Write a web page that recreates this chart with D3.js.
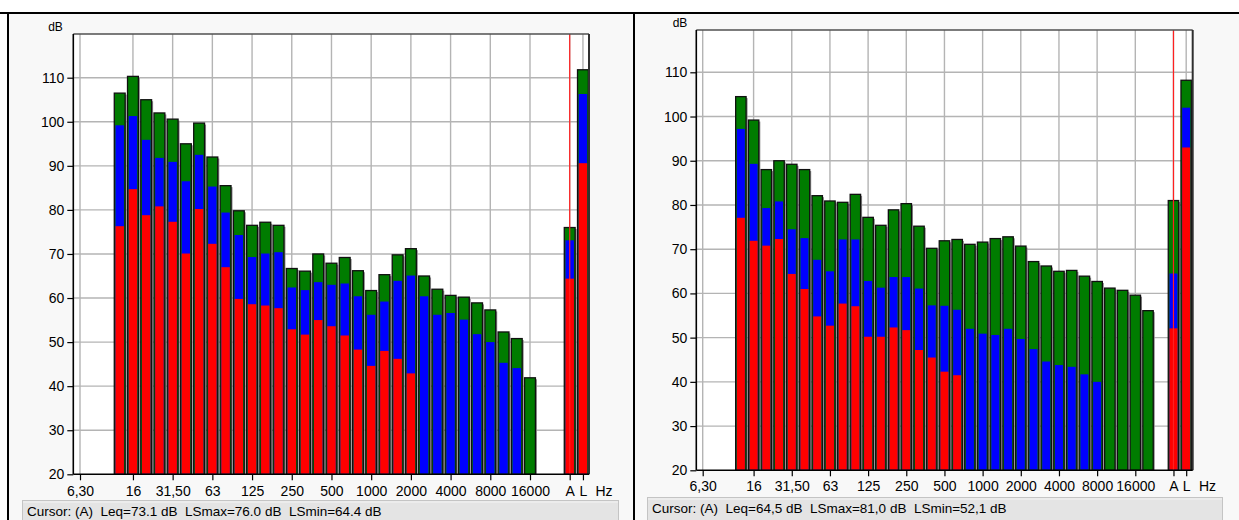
<!DOCTYPE html>
<html>
<head>
<meta charset="utf-8">
<script src="https://cdn.jsdelivr.net/npm/d3@7"></script>
<style>
  html, body { margin: 0; padding: 0; background: #ffffff; }
  svg { display: block; }
  text { font-family: "Liberation Sans", Arial, sans-serif; fill: #000; }
</style>
</head>
<body>
<svg id="chart" width="1239" height="520"></svg>
<script>
// ---------- DATA ----------
// Full 1/3-octave band list (position index on the x axis)
const bandNames = ["6,3","8","10","12,5","16","20","25","31,5","40","50","63","80","100","125","160","200","250","315","400","500","630","800","1000","1250","1600","2000","2500","3150","4000","5000","6300","8000","10000","12500","16000","20000","","A","L"];
const xTickBands  = ["6,3","16","31,5","63","125","250","500","1000","2000","4000","8000","16000","A","L"];
const xTickLabels = ["6,30","16","31,50","63","125","250","500","1000","2000","4000","8000","16000","A","L"];
const yTicks = [20,30,40,50,60,70,80,90,100,110];

// Left panel
const leftBands = ["12,5","16","20","25","31,5","40","50","63","80","100","125","160","200","250","315","400","500","630","800","1000","1250","1600","2000","2500","3150","4000","5000","6300","8000","10000","12500","16000","A","L"];
const leftLSmax = [106.5,110.3,105.0,102.0,100.6,95.0,99.7,92.0,85.5,79.8,76.5,77.2,76.5,66.7,66.1,70.0,67.9,69.2,66.2,61.7,65.3,69.8,71.2,65.0,62.0,60.6,60.2,58.9,57.3,52.3,50.8,41.9,76.0,111.8];
const leftLeq   = [99.2,101.3,95.9,91.8,90.9,86.5,92.5,85.3,79.4,74.3,69.3,70.1,70.4,62.4,61.8,63.6,63.0,63.3,60.4,56.2,59.2,63.9,65.1,60.4,56.2,56.6,55.1,51.8,50.0,45.3,44.1,null,73.1,106.3];
const leftLSmin = [76.3,84.7,78.8,80.8,77.3,70.1,80.2,72.3,67.0,59.8,58.6,58.3,57.7,52.9,51.7,55.0,53.6,51.5,48.3,44.6,48.0,46.2,42.9,null,null,null,null,null,null,null,null,null,64.4,90.6];
const leftStatus = "Cursor: (A)  Leq=73.1 dB  LSmax=76.0 dB  LSmin=64.4 dB";

// Right panel
const rightBands = ["12,5","16","20","25","31,5","40","50","63","80","100","125","160","200","250","315","400","500","630","800","1000","1250","1600","2000","2500","3150","4000","5000","6300","8000","10000","12500","16000","20000","A","L"];
const rightLSmax = [104.5,99.2,88.0,90.0,89.2,88.0,82.1,80.9,80.6,82.4,77.2,75.4,78.9,80.3,75.2,70.2,71.9,72.2,71.1,71.6,72.4,72.8,70.7,67.2,66.2,65.0,65.2,63.9,62.7,61.2,60.7,59.6,56.1,81.0,108.2];
const rightLeq   = [97.2,89.3,79.3,80.8,74.5,72.5,67.6,65.0,72.2,72.2,62.8,61.3,63.7,63.7,61.1,57.3,57.2,56.3,52.0,50.9,50.6,52.0,49.7,47.4,44.6,43.8,43.4,41.7,40.0,null,null,null,null,64.5,102.0];
const rightLSmin = [77.1,71.9,70.8,72.3,64.4,61.0,54.8,52.7,57.7,57.1,50.2,50.2,52.3,51.7,47.2,45.5,42.3,41.5,null,null,null,null,null,null,null,null,null,null,null,null,null,null,null,52.1,93.0];
const rightStatus = "Cursor: (A)  Leq=64,5 dB  LSmax=81,0 dB  LSmin=52,1 dB";

const cursorBand = "A";

// ---------- LAYOUT ----------
const svg = d3.select("#chart");

// outer table borders / panel backgrounds
svg.append("rect").attr("x", 9).attr("y", 14).attr("width", 624).attr("height", 506).attr("fill", "#f8f8f8");
svg.append("rect").attr("x", 635).attr("y", 14).attr("width", 604).attr("height", 506).attr("fill", "#f8f8f8");
svg.append("line").attr("x1", 0).attr("x2", 1239).attr("y1", 13).attr("y2", 13).attr("stroke", "#000").attr("stroke-width", 2);
svg.append("line").attr("x1", 8).attr("x2", 8).attr("y1", 12).attr("y2", 520).attr("stroke", "#000").attr("stroke-width", 2);
svg.append("line").attr("x1", 634).attr("x2", 634).attr("y1", 12).attr("y2", 520).attr("stroke", "#000").attr("stroke-width", 2);

const panels = [
  { bands: leftBands, max: leftLSmax, leq: leftLeq, min: leftLSmin, status: leftStatus,
    left: 73.3, right: 589, top: 34, bottom: 474.3, y110: 77.7, x0: 80, x34: 530,
    dbX: 55.5, dbY: 31, hzX: 604, labY: 496, statusBox: [22, 500, 597, 20], statusY: 516 },
  { bands: rightBands, max: rightLSmax, leq: rightLeq, min: rightLSmin, status: rightStatus,
    left: 696.3, right: 1192.7, top: 30, bottom: 470.3, y110: 72.3, x0: 702.7, x34: 1135.3,
    dbX: 680, dbY: 27, hzX: 1207.5, labY: 491, statusBox: [647, 497, 576, 23], statusY: 513 }
];

const colMax = "#007c00", colLeq = "#0000ff", colMin = "#ff0000";

panels.forEach(p => {
  const g = svg.append("g");
  const idx = d3.scaleOrdinal().domain(bandNames).range(d3.range(bandNames.length));
  const x = d3.scaleLinear().domain([0, 34]).range([p.x0, p.x34]);
  const y = d3.scaleLinear().domain([20, 110]).range([p.bottom, p.y110]);
  const step = x(1) - x(0);
  const bw = step * 0.82;
  const X = b => x(idx(b));

  // plot background
  g.append("rect").attr("x", p.left).attr("y", p.top).attr("width", p.right - p.left).attr("height", p.bottom - p.top).attr("fill", "#ffffff");

  // grid
  g.append("g").selectAll("line").data(yTicks.slice(1)).join("line")
    .attr("x1", p.left).attr("x2", p.right).attr("y1", d => y(d)).attr("y2", d => y(d))
    .attr("stroke", "#b4b4b4").attr("stroke-width", 1.4);
  g.append("g").selectAll("line").data(xTickBands).join("line")
    .attr("x1", d => X(d)).attr("x2", d => X(d)).attr("y1", p.top).attr("y2", p.bottom)
    .attr("stroke", "#b4b4b4").attr("stroke-width", 1.4);

  // bars
  const data = p.bands.map((b, i) => ({ b, max: p.max[i], leq: p.leq[i], min: p.min[i] }));
  const bars = g.append("g");
  const inset = 1.2;
  // shadow
  bars.selectAll("rect.sh").data(data).join("rect").attr("class", "sh")
    .attr("x", d => X(d.b) - bw / 2 + 1.5).attr("width", bw)
    .attr("y", d => y(d.max) + 1.5).attr("height", d => y(20) - y(d.max) - 1.5)
    .attr("fill", "#8a8a8a");
  bars.selectAll("rect.mx").data(data).join("rect").attr("class", "mx")
    .attr("x", d => X(d.b) - bw / 2).attr("width", bw)
    .attr("y", d => y(d.max)).attr("height", d => y(20) - y(d.max))
    .attr("fill", colMax).attr("stroke", "#101010").attr("stroke-width", 1.3);
  bars.selectAll("rect.lq").data(data.filter(d => d.leq != null)).join("rect").attr("class", "lq")
    .attr("x", d => X(d.b) - bw / 2 + inset).attr("width", bw - 2 * inset)
    .attr("y", d => y(d.leq)).attr("height", d => y(20) - y(d.leq) - 0.6)
    .attr("fill", colLeq);
  bars.selectAll("rect.mn").data(data.filter(d => d.min != null)).join("rect").attr("class", "mn")
    .attr("x", d => X(d.b) - bw / 2 + inset).attr("width", bw - 2 * inset)
    .attr("y", d => y(d.min)).attr("height", d => y(20) - y(d.min) - 0.6)
    .attr("fill", colMin);

  // cursor
  g.append("line").attr("x1", X(cursorBand)).attr("x2", X(cursorBand)).attr("y1", p.top).attr("y2", p.bottom)
    .attr("stroke", "#ff2020").attr("stroke-width", 1.2);

  // frame
  g.append("line").attr("x1", p.left).attr("x2", p.right).attr("y1", p.top).attr("y2", p.top).attr("stroke", "#505050").attr("stroke-width", 1.5);
  g.append("line").attr("x1", p.right).attr("x2", p.right).attr("y1", p.top).attr("y2", p.bottom).attr("stroke", "#303030").attr("stroke-width", 2);

  // y axis
  const yAxis = d3.axisLeft(y).tickValues(yTicks).tickSize(6).tickPadding(3).tickFormat(d3.format("d"));
  const ya = g.append("g").attr("transform", `translate(${p.left},0)`).call(yAxis);
  ya.select(".domain").attr("d", `M0,${p.top}V${p.bottom}`).attr("stroke", "#000").attr("stroke-width", 1.6);
  ya.selectAll(".tick line").attr("stroke", "#000").attr("stroke-width", 1.2);
  ya.selectAll(".tick text").attr("font-size", 14).attr("font-family", "Liberation Sans, Arial, sans-serif").attr("fill", "#000");

  // x axis
  const xAxis = d3.axisBottom(x).tickValues(xTickBands.map(b => idx(b))).tickSize(6).tickPadding(4)
    .tickFormat((d, i) => xTickLabels[i]);
  const xa = g.append("g").attr("transform", `translate(0,${p.bottom})`).call(xAxis);
  xa.select(".domain").attr("d", `M${p.left},0H${p.right}`).attr("stroke", "#000").attr("stroke-width", 1.6);
  xa.selectAll(".tick line").attr("stroke", "#000").attr("stroke-width", 1.2);
  xa.selectAll(".tick text").attr("font-size", 14).attr("font-family", "Liberation Sans, Arial, sans-serif").attr("fill", "#000")
    .attr("dy", null).attr("y", p.labY - p.bottom).attr("dominant-baseline", "alphabetic");

  // unit labels
  g.append("text").attr("x", p.dbX).attr("y", p.dbY).attr("text-anchor", "middle").attr("font-size", 12).text("dB");
  g.append("text").attr("x", p.hzX).attr("y", p.labY).attr("text-anchor", "middle").attr("font-size", 14).text("Hz");

  // status bar
  const [sx, sy, sw, sh] = p.statusBox;
  g.append("rect").attr("x", sx).attr("y", sy).attr("width", sw).attr("height", sh).attr("fill", "#e4e4e4");
  g.append("line").attr("x1", sx).attr("x2", sx + sw).attr("y1", sy + 0.5).attr("y2", sy + 0.5).attr("stroke", "#c4c4c4");
  g.append("line").attr("x1", sx).attr("x2", sx + sw).attr("y1", sy + 2).attr("y2", sy + 2).attr("stroke", "#f4f4f4");
  g.append("line").attr("x1", sx + 0.5).attr("x2", sx + 0.5).attr("y1", sy).attr("y2", sy + sh).attr("stroke", "#c4c4c4");
  g.append("line").attr("x1", sx + sw - 0.5).attr("x2", sx + sw - 0.5).attr("y1", sy).attr("y2", sy + sh).attr("stroke", "#c4c4c4");
  g.append("text").attr("x", sx + 5).attr("y", p.statusY).attr("font-size", 13.5).attr("xml:space", "preserve")
    .style("white-space", "pre").text(p.status);
});
</script>
</body>
</html>
